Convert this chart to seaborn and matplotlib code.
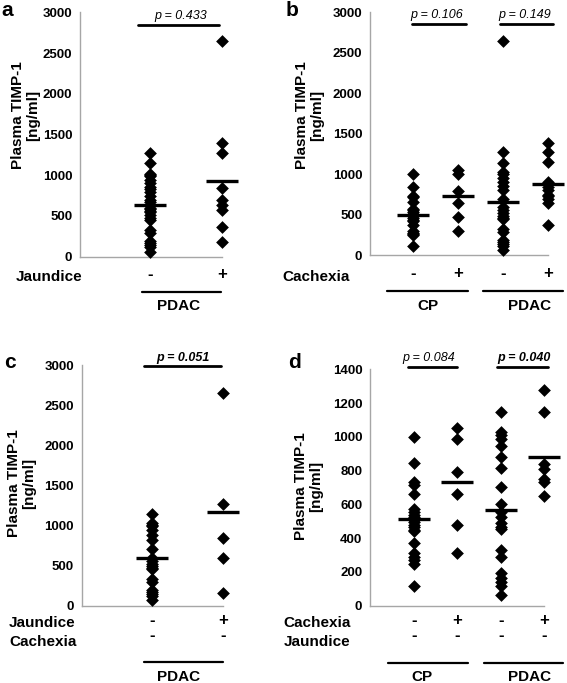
import numpy as np
import pandas as pd
import matplotlib.pyplot as plt
from matplotlib.lines import Line2D
import seaborn as sns

# Plasma TIMP-1 values [ng/ml]
# panel a: PDAC by jaundice
a_groups = ['J-', 'J+']
a_neg = [1270, 1145, 1015, 1000, 990, 945, 900, 860, 830, 800, 740, 700, 675,
         600, 580, 560, 545, 510, 470, 455, 330, 290, 190, 165, 140, 115, 60]
a_pos = [2650, 1390, 1270, 840, 700, 635, 575, 360, 175]
a_means = [634, 929]

# panel b: CP / PDAC by cachexia
b_groups = ['CP-', 'CP+', 'PDAC-', 'PDAC+']
b_cp_neg = [1000, 845, 730, 715, 660, 575, 555, 535, 515, 495, 480, 460, 440,
            420, 370, 300, 280, 260, 250, 115]
b_cp_pos = [1050, 1000, 800, 650, 470, 300]
b_pdac_neg = [2650, 1270, 1140, 1030, 1000, 950, 900, 850, 810, 700, 600, 560,
              520, 480, 460, 450, 330, 290, 190, 160, 140, 115, 60]
b_pdac_pos = [1390, 1270, 1150, 900, 840, 810, 750, 735, 700, 650, 370]
b_means = [498, 737, 662, 881]

# panel c: PDAC without cachexia, by jaundice
c_groups = ['J-', 'J+']
c_neg = [1140, 1030, 1010, 990, 945, 880, 815, 705, 600, 555, 525, 490, 465,
         455, 330, 290, 195, 165, 140, 115, 65]
c_pos = [2650, 1270, 840, 600, 160]
c_means = [590, 1172]

# panel d: CP / PDAC without jaundice, by cachexia
d_groups = ['CP-', 'CP+', 'PDAC-', 'PDAC+']
d_cp_neg = [1000, 845, 730, 715, 660, 575, 555, 540, 525, 510, 495, 480, 465,
            450, 440, 370, 310, 290, 270, 245, 115]
d_cp_pos = [1050, 990, 790, 660, 475, 310]
d_pdac_neg = [1145, 1030, 1010, 990, 945, 880, 815, 705, 600, 555, 525, 490,
              465, 455, 330, 290, 195, 165, 140, 115, 65]
d_pdac_pos = [1280, 1150, 840, 810, 750, 735, 650]
d_means = [515, 735, 565, 878]

sns.set_style('white')
plt.rcParams['font.family'] = ['Liberation Sans', 'DejaVu Sans']
plt.rcParams['font.weight'] = 'bold'
plt.rcParams['text.color'] = 'black'
plt.rcParams['axes.labelcolor'] = 'black'

W, H = 567, 683
fig = plt.figure(figsize=(W / 100, H / 100), dpi=100)


def fx(x):
    return x / W


def fy(y):
    return 1 - y / H


def hbar(x0, x1, y, lw=1.6):
    fig.add_artist(Line2D([fx(x0), fx(x1)], [fy(y), fy(y)], color='black', lw=lw))


def ftext(x, y, s, **kw):
    kw.setdefault('fontsize', 11)
    kw.setdefault('va', 'center')
    kw.setdefault('fontweight', 'bold')
    fig.text(fx(x), fy(y), s, **kw)


def panel(box, groups, series, means, ymax, ystep, xleft, labels, pad, ylab_xy):
    l, t, r, b = box
    ax = fig.add_axes([fx(l), fy(b), (r - l) / W, (b - t) / H])
    df = pd.DataFrame({
        'group': np.concatenate([[g] * len(v) for g, v in zip(groups, series)]),
        'value': np.concatenate(series),
    })
    sns.stripplot(data=df, x='group', y='value', order=groups, jitter=False,
                  marker='D', color='black', size=6.5, linewidth=0, ax=ax)
    sns.pointplot(x=groups, y=means, order=groups, markers='_', linestyles='none',
                  color='black', errorbar=None, markersize=23,
                  markeredgewidth=2.4, ax=ax)
    for art in ax.collections + ax.lines:
        art.set_clip_on(False)
    ax.set_xlim(xleft, len(groups) - 1)
    ax.set_ylim(0, ymax)
    ax.set_yticks(np.arange(0, ymax + 1, ystep))
    ax.set_xticks(range(len(groups)))
    ax.set_xticklabels(labels, fontsize=12, linespacing=1.0, fontweight='bold')
    ax.tick_params(axis='y', direction='out', length=4, width=1,
                   color='#a6a6a6', labelcolor='black', pad=1.5, labelsize=9.5)
    ax.tick_params(axis='x', direction='out', length=3, width=1,
                   color='#a6a6a6', labelcolor='black', pad=pad)
    for lab in ax.get_yticklabels():
        lab.set_fontweight('bold')
    for side in ['top', 'right']:
        ax.spines[side].set_visible(False)
    for side in ['left', 'bottom']:
        ax.spines[side].set_color('#a6a6a6')
        ax.spines[side].set_linewidth(1)
    ax.set_xlabel('')
    ax.set_ylabel('Plasma TIMP-1\n[ng/ml]', fontsize=11, fontweight='bold',
                  linespacing=1.05)
    lx, ly = ylab_xy
    ax.yaxis.set_label_coords((lx - l) / (r - l), (b - ly) / (b - t))
    return ax


def pval(x0, x1, y, tx, ty, s, bold=False):
    hbar(x0, x1, y, lw=2)
    ftext(tx, ty, s, fontsize=9, ha='center', fontstyle='italic',
          fontweight='bold' if bold else 'normal')


# a
panel((80, 12.3, 222, 256.7), a_groups, [a_neg, a_pos], a_means, 3000, 500,
      -0.98, ['-', '+'], 4.5, (40, 115))
pval(138, 219, 25, 181, 16, 'p = 0.433')
ftext(16, 276.7, 'Jaundice')
hbar(141.7, 220.7, 291.7)
ftext(178.3, 306, 'PDAC', ha='center')
ftext(1, 11, 'a', fontsize=15)

# b
panel((370, 12.3, 548.3, 255.3), b_groups, [b_cp_neg, b_cp_pos, b_pdac_neg, b_pdac_pos],
      b_means, 3000, 500, -0.96, ['-', '+', '-', '+'], 4.5, (324, 115))
pval(411.7, 465.7, 24.3, 436.7, 15, 'p = 0.106')
pval(500, 553, 24.3, 525, 15, 'p = 0.149')
ftext(350, 276.7, 'Cachexia', ha='right')
hbar(386.7, 468.3, 291)
hbar(483.3, 563.3, 291)
ftext(428.3, 306, 'CP', ha='center')
ftext(530, 306, 'PDAC', ha='center')
ftext(286, 11, 'b', fontsize=15)

# c
panel((81.7, 365, 222.7, 605.7), c_groups, [c_neg, c_pos], c_means, 3000, 500,
      -0.99, ['-\n-', '+\n-'], 2.5, (36, 483))
pval(144, 220.7, 366, 182.5, 357.5, 'p = 0.051', bold=True)
ftext(9, 622.7, 'Jaundice')
ftext(9, 641.7, 'Cachexia')
hbar(144, 223.3, 662.3)
ftext(178.3, 676.7, 'PDAC', ha='center')
ftext(4, 362, 'c', fontsize=15)

# d
panel((370, 369.3, 544.3, 605.7), d_groups, [d_cp_neg, d_cp_pos, d_pdac_neg, d_pdac_pos],
      d_means, 1400, 200, -1.01, ['-\n-', '+\n-', '-\n-', '+\n-'], 2.5, (323, 486))
pval(407.7, 456.7, 366.7, 428.3, 357.5, 'p = 0.084')
pval(496.7, 548.3, 366.7, 524.2, 357.5, 'p = 0.040', bold=True)
ftext(350.7, 622.7, 'Cachexia', ha='right')
ftext(350.7, 641.7, 'Jaundice', ha='right')
hbar(387.7, 468.3, 662.7)
hbar(484.3, 563.3, 662.7)
ftext(421.7, 677.3, 'CP', ha='center')
ftext(530, 677.3, 'PDAC', ha='center')
ftext(288, 362, 'd', fontsize=15)

fig.savefig('out.png', dpi=100)
